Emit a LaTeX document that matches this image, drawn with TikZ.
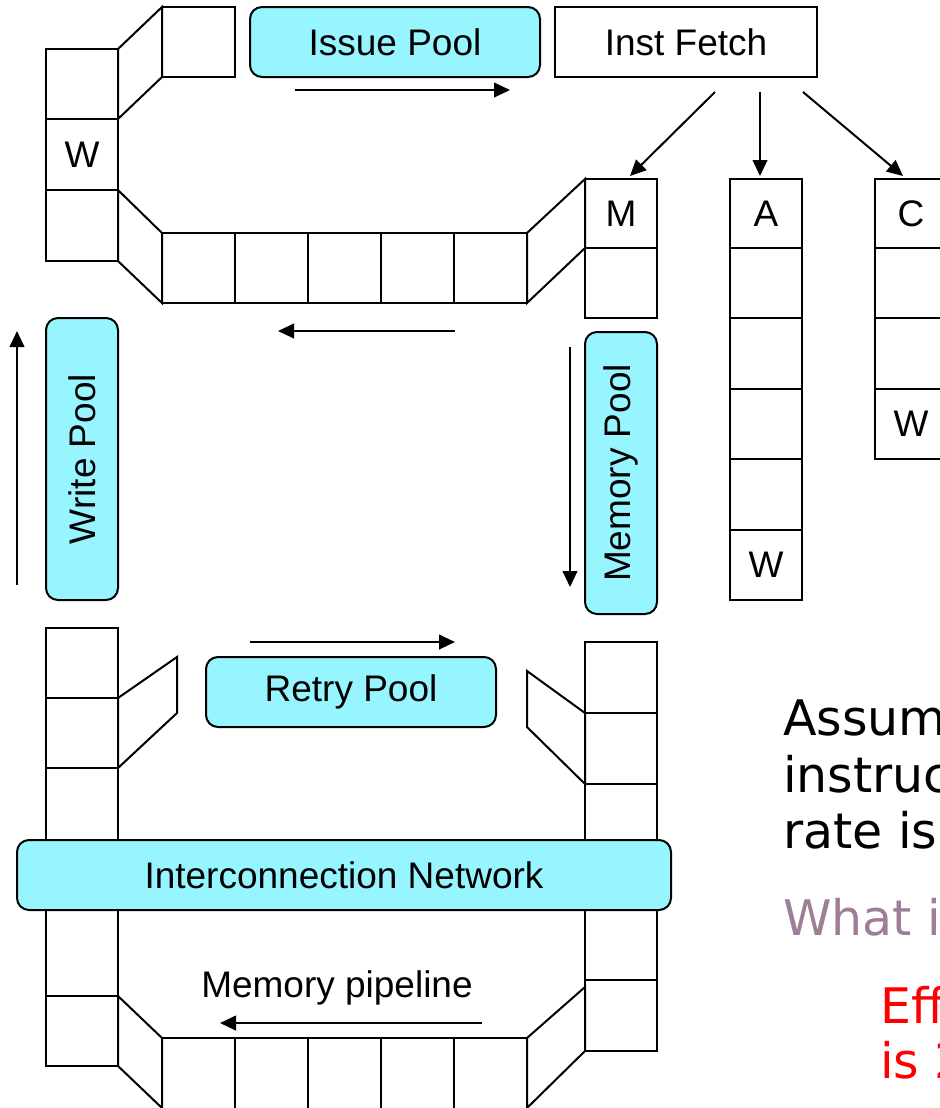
\documentclass[tikz,border=0pt]{standalone}
\usepackage{fontspec}
\setmainfont{Liberation Sans}
\newfontfamily\verd{DejaVu Sans}
\usetikzlibrary{arrows.meta,fit}
\definecolor{poolc}{RGB}{150,245,255}
\definecolor{mauve}{RGB}{158,126,150}
\definecolor{redt}{RGB}{255,0,0}
\begin{document}
\begin{tikzpicture}[x=0.75pt,y=-0.75pt,
  cell/.style={draw, line width=1.5pt, inner sep=0pt, outer sep=0pt, fill=white},
  pool/.style={cell, fill=poolc, rounded corners=9pt},
  conn/.style={draw, line width=1.5pt, line join=miter, fill=white},
  arr/.style={line width=1.5pt, -{Triangle[length=12pt,width=11pt]}},
  lbl/.style={font=\fontsize{27.75}{33}\selectfont, inner sep=0pt},
  side/.style={font=\verd\fontsize{36.75}{42}\selectfont, anchor=base west, inner sep=0pt}]
\useasboundingbox (0,0) rectangle (940,1108);
\clip (0,0) rectangle (940,1108);

% ---- top-left column and top box
\node[cell, fit={(46,49) (118,119)}] (l1) {};
\node[cell, fit={(46,119) (118,190)}] (l2) {};
\node[lbl] (l2t) at (l2.center) {W};
\node[cell, fit={(46,190) (118,261)}] (l3) {};
\node[cell, fit={(162,7) (235,77)}] (t0) {};
\draw[conn] (l1.north east) -- (t0.north west) -- (t0.south west) -- (l1.south east) -- cycle;

% ---- Issue pool and Inst fetch
\node[pool, fit={(250,7) (540,77)}] (issue) {};
\node[lbl] (issuet) at (issue.center) {Issue Pool};
\node[cell, fit={(555,7) (817,77)}] (fetch) {};
\node[lbl] (fetcht) at (fetch.center) {Inst Fetch};
\coordinate (ia1) at (295,90); \coordinate (ia2) at (510,90);
\draw[arr] (ia1) -- (ia2);

% ---- top pipeline
\node[cell, fit={(162,233) (235,303)}] (p1) {};
\node[cell, fit={(235,233) (308,303)}] (p2) {};
\node[cell, fit={(308,233) (381,303)}] (p3) {};
\node[cell, fit={(381,233) (454,303)}] (p4) {};
\node[cell, fit={(454,233) (527,303)}] (p5) {};
\draw[conn] (l3.north east) -- (p1.north west) -- (p1.south west) -- (l3.south east) -- cycle;

% ---- M column
\node[cell, fit={(585,179) (657,248)}] (m1) {};
\node[lbl] (m1t) at (m1.center) {M};
\node[cell, fit={(585,248) (657,318)}] (m2) {};
\draw[conn] (p5.north east) -- (m1.north west) -- (m1.south west) -- (p5.south east) -- cycle;

% ---- A column
\node[cell, fit={(730,179) (802,248)}] (a1) {};
\node[lbl] (a1t) at (a1.center) {A};
\node[cell, fit={(730,248) (802,318)}] (a2) {};
\node[cell, fit={(730,318) (802,389)}] (a3) {};
\node[cell, fit={(730,389) (802,459)}] (a4) {};
\node[cell, fit={(730,459) (802,530)}] (a5) {};
\node[cell, fit={(730,530) (802,600)}] (a6) {};
\node[lbl] (a6t) at (a6.center) {W};

% ---- C column
\node[cell, fit={(875,179) (947,248)}] (c1) {};
\node[lbl] (c1t) at (c1.center) {C};
\node[cell, fit={(875,248) (947,318)}] (c2) {};
\node[cell, fit={(875,318) (947,389)}] (c3) {};
\node[cell, fit={(875,389) (947,459)}] (c4) {};
\node[lbl] (c4t) at (c4.center) {W};

% ---- fetch arrows
\coordinate (f1a) at (715,92); \coordinate (f1b) at (630,176);
\coordinate (f2a) at (760,92); \coordinate (f2b) at (760,176);
\coordinate (f3a) at (803,92); \coordinate (f3b) at (903,176);
\draw[arr] (f1a) -- (f1b);
\draw[arr] (f2a) -- (f2b);
\draw[arr] (f3a) -- (f3b);

% ---- arrow under top pipeline
\coordinate (ta1) at (455,331); \coordinate (ta2) at (278,331);
\draw[arr] (ta1) -- (ta2);

% ---- Write pool
\node[pool, fit={(46,318) (118,600)}] (wp) {};
\node[lbl, rotate=90] (wpt) at (wp.center) {Write Pool};
\coordinate (wa1) at (17,585); \coordinate (wa2) at (17,331);
\draw[arr] (wa1) -- (wa2);

% ---- Memory pool
\node[pool, fit={(585,332) (657,614)}] (mp) {};
\node[lbl, rotate=90] (mpt) at (mp.center) {Memory Pool};
\coordinate (ma1) at (570,347); \coordinate (ma2) at (570,587);
\draw[arr] (ma1) -- (ma2);

% ---- lower left column
\node[cell, fit={(46,628) (118,698)}] (b1) {};
\node[cell, fit={(46,698) (118,768)}] (b2) {};
\node[cell, fit={(46,768) (118,870)}] (b3) {};
\draw[conn] (b2.north east) -- (177,657) -- (177,713) -- (b2.south east) -- cycle;

% ---- retry pool
\node[pool, fit={(206,657) (496,727)}] (retry) {};
\node[lbl] (retryt) at (retry.center) {Retry Pool};
\coordinate (ra1) at (250,642); \coordinate (ra2) at (455,642);
\draw[arr] (ra1) -- (ra2);

% ---- lower right column
\node[cell, fit={(585,642) (657,713)}] (r1) {};
\node[cell, fit={(585,713) (657,784)}] (r2) {};
\node[cell, fit={(585,784) (657,870)}] (r3) {};
\draw[conn] (r2.north west) -- (527,671) -- (527,727) -- (r2.south west) -- cycle;

% ---- bottom columns and memory pipeline
\node[cell, fit={(46,880) (118,996)}] (d1) {};
\node[cell, fit={(46,996) (118,1066)}] (d2) {};
\node[cell, fit={(585,880) (657,980)}] (e1) {};
\node[cell, fit={(585,980) (657,1051)}] (e2) {};
\node[cell, fit={(162,1038) (235,1112)}] (q1) {};
\node[cell, fit={(235,1038) (308,1112)}] (q2) {};
\node[cell, fit={(308,1038) (381,1112)}] (q3) {};
\node[cell, fit={(381,1038) (454,1112)}] (q4) {};
\node[cell, fit={(454,1038) (527,1112)}] (q5) {};
\draw[conn] (d2.north east) -- (q1.north west) -- (162,1108) -- (d2.south east) -- cycle;
\draw[conn] (q5.north east) -- (585,987) -- (e2.south west) -- (527,1108) -- cycle;
\node[lbl] (mpl) at (337,988) {Memory pipeline};
\coordinate (pa1) at (482,1023); \coordinate (pa2) at (220,1023);
\draw[arr] (pa1) -- (pa2);

% ---- interconnection network
\node[pool, fit={(17,840) (671,910)}] (net) {};
\node[lbl] (nett) at (net.center) {Interconnection Network};

% ---- side text
\node[side] (s1) at (783,735) {Assum};
\node[side] (s2) at (783,792) {instruc};
\node[side] (s3) at (783,848) {rate is};
\node[side, text=mauve] (s4) at (783,935) {What i};
\node[side, text=redt] (s5) at (880,1023) {Eff};
\node[side, text=redt] (s6) at (880,1078) {is 2};
\end{tikzpicture}
\end{document}
